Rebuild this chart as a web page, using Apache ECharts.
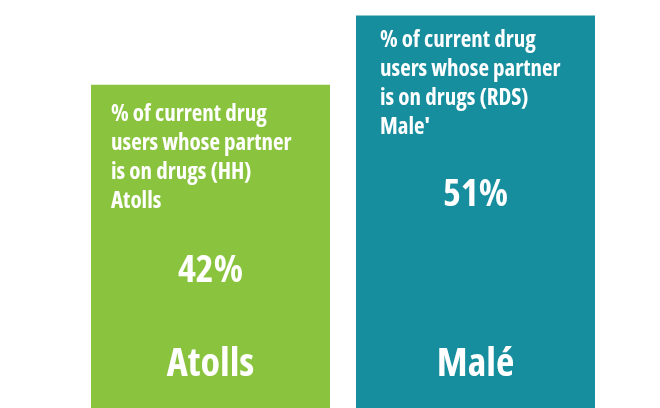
<!DOCTYPE html>
<html>
<head>
<meta charset="utf-8">
<script src="https://cdn.jsdelivr.net/npm/echarts@6/dist/echarts.min.js"></script>
<style>
  html, body { margin: 0; padding: 0; background: #fff; }
  #chart { width: 660px; height: 408px; }
</style>
</head>
<body>
<div id="chart"></div>
<script>
// Share of current drug users whose partner is on drugs
const categories = ['Atolls', 'Malé'];
const values = [42, 51];
const descriptions = [
  '% of current drug\nusers whose partner\nis on drugs (HH)\nAtolls',
  "% of current drug\nusers whose partner\nis on drugs (RDS)\nMale'"
];
const colors = ['#8AC43F', '#168E9E'];

// condensed face of the sans family, written into the canvas font shorthand
const FONT = '"Open Sans", sans-serif';
const descOffsets = [[20, 15], [24, 11]];
const valueOffsets = [186, 180];

const chart = echarts.init(document.getElementById('chart'), null, { renderer: 'canvas' });

chart.setOption({
  animation: false,
  grid: { left: 78, right: 52, top: 0, bottom: -10, containLabel: false },
  xAxis: {
    type: 'category',
    data: categories,
    z: 10,
    axisLine: { show: false },
    axisTick: { show: false },
    axisLabel: {
      inside: true,
      margin: 23,
      color: '#fff',
      fontFamily: FONT,
      fontStyle: 'condensed',
      fontWeight: 'bold',
      fontSize: 40
    }
  },
  yAxis: {
    type: 'value',
    min: 0,
    max: 53,
    show: false,
    splitLine: { show: false }
  },
  series: [
    {
      type: 'bar',
      barWidth: 239,
      data: values.map((v, i) => ({
        value: v,
        itemStyle: { color: colors[i] },
        label: {
          show: true,
          position: descOffsets[i],
          formatter: descriptions[i],
          color: '#fff',
          fontFamily: FONT,
          fontStyle: 'condensed',
          fontWeight: 'bold',
          fontSize: 23,
          lineHeight: 29,
          align: 'left',
          verticalAlign: 'top'
        }
      }))
    },
    {
      type: 'bar',
      barWidth: 239,
      barGap: '-100%',
      silent: true,
      itemStyle: { color: 'rgba(0,0,0,0)' },
      data: values.map((v, i) => ({
        value: v,
        label: {
          show: true,
          position: ['50%', valueOffsets[i]],
          formatter: v + '%',
          color: '#fff',
          fontFamily: FONT,
          fontStyle: 'condensed',
          fontWeight: 'bold',
          fontSize: 38,
          align: 'center',
          verticalAlign: 'middle'
        }
      }))
    }
  ]
});
</script>
</body>
</html>
